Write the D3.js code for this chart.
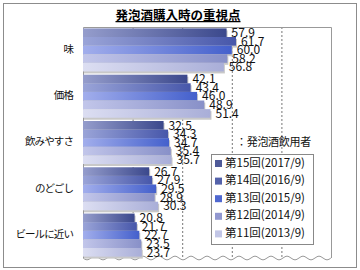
<!DOCTYPE html>
<html>
<head>
<meta charset="utf-8">
<script src="https://cdn.jsdelivr.net/npm/d3@7"></script>
<style>
  body { margin: 0; background: #fff; }
  text { font-family: "Noto Sans CJK JP", "Liberation Sans", sans-serif; }
</style>
</head>
<body>
<div id="chart"></div>
<script>

// chart data
const categories = ["味", "価格", "飲みやすさ", "のどごし", "ビールに近い"]
const seriesNames = ["第15回(2017/9)", "第14回(2016/9)", "第13回(2015/9)", "第12回(2014/9)", "第11回(2013/9)"]
const s15 = [57.9, 42.1, 32.5, 26.7, 20.8]
const s14 = [61.7, 43.4, 34.3, 27.9, 21.7]
const s13 = [60.0, 46.0, 34.7, 29.5, 22.7]
const s12 = [58.2, 48.9, 35.4, 28.9, 23.5]
const s11 = [56.8, 51.4, 35.7, 30.3, 23.7]
const xTicks = [20, 40, 60, 80]

const seriesValues = [s15, s14, s13, s12, s11]
const barLight = ["#959dcc", "#9aa4d8", "#a2aeec", "#c2c6ea", "#dcdef2"]
const barDark  = ["#3b488c", "#4757aa", "#4460cc", "#8890c8", "#a9aed8"]
const swatch   = ["#4f5a98", "#5462aa", "#5068d0", "#9298d0", "#c2c6e6"]

const W = 360, H = 270
const svg = d3.select("#chart").append("svg")
    .attr("width", W).attr("height", H)

// outer frame
svg.append("rect")
    .attr("x", 3.5).attr("y", 3.5)
    .attr("width", W - 7).attr("height", H - 6)
    .attr("fill", "#fff").attr("stroke", "#8c8c8c")

// title
svg.append("text")
    .attr("x", 178).attr("y", 20)
    .attr("text-anchor", "middle")
    .attr("font-size", 12.5).attr("font-weight", "bold")
    .attr("text-decoration", "underline")
    .text("発泡酒購入時の重視点")

const plot = {left: 83, right: 331, top: 27, bottom: 258}

const x = d3.scaleLinear().domain([0, 100]).range([plot.left, plot.right])
const y = d3.scaleBand().domain(categories)
    .range([plot.top, plot.bottom]).paddingInner(0.07).paddingOuter(0.03)
const ySub = d3.scaleBand().domain(d3.range(seriesNames.length))
    .range([0, y.bandwidth()])

// gradients
const defs = svg.append("defs")
seriesNames.forEach((s, i) => {
    const g = defs.append("linearGradient")
        .attr("id", "grad" + i)
        .attr("x1", "0%").attr("x2", "100%").attr("y1", "0%").attr("y2", "0%")
    g.append("stop").attr("offset", "0%").attr("stop-color", barLight[i])
    g.append("stop").attr("offset", "100%").attr("stop-color", barDark[i])
})

// wavy bottom edge
const waveY = plot.bottom
const wavePts = d3.range(plot.left, plot.right + 0.1, 2)
    .map(px => [px, waveY + 2 * Math.sin((px - plot.left) / 16 * 2 * Math.PI)])
const wave = d3.line().curve(d3.curveBasis)

// grid lines
svg.append("g").selectAll("line")
    .data(xTicks).enter().append("line")
    .attr("x1", d => x(d) + 0.5).attr("x2", d => x(d) + 0.5)
    .attr("y1", plot.top).attr("y2", waveY)
    .attr("stroke", "#777").attr("stroke-dasharray", "2,2")

// plot frame (top, right, left)
svg.append("path")
    .attr("d", `M${plot.left + 0.5},${waveY} V${plot.top + 0.5} H${plot.right + 0.5} V${waveY}`)
    .attr("fill", "none").attr("stroke", "#999")
svg.append("path")
    .attr("d", wave(wavePts))
    .attr("fill", "none").attr("stroke", "#999")

// legend
const legX = 211, legY = 154
const legend = svg.append("g")
legend.append("rect")
    .attr("x", legX + 0.5).attr("y", legY + 0.5)
    .attr("width", 102).attr("height", 90)
    .attr("fill", "#fff").attr("stroke", "#888")
const legItems = legend.selectAll("g.item")
    .data(seriesNames).enter().append("g")
    .attr("transform", (d, i) => `translate(${legX + 4},${legY + 9 + i * 17.6})`)
legItems.append("rect")
    .attr("x", 0).attr("y", -3).attr("width", 7).attr("height", 7)
    .attr("fill", (d, i) => swatch[i])
legItems.append("text")
    .attr("x", 10).attr("y", 0.5)
    .attr("dominant-baseline", "middle")
    .attr("font-size", 11.5).attr("fill", "#111")
    .text(d => d)

svg.append("text")
    .attr("x", 236).attr("y", 146)
    .attr("font-size", 11).attr("fill", "#111")
    .attr("letter-spacing", -0.3)
    .text("：発泡酒飲用者")

// bars
const groups = svg.append("g").selectAll("g.cat")
    .data(categories).enter().append("g")
    .attr("transform", d => `translate(0,${y(d)})`)

groups.each(function (cat, ci) {
    const g = d3.select(this)
    const vals = seriesValues.map(s => s[ci])
    // shadow
    g.selectAll("rect.shadow").data(vals).enter().append("rect")
        .attr("x", x(0) + 1)
        .attr("y", (d, i) => ySub(i) + 2)
        .attr("width", d => x(d) - x(0))
        .attr("height", ySub.bandwidth())
        .attr("fill", "#c8c8c8")
    g.selectAll("rect.bar").data(vals).enter().append("rect")
        .attr("x", x(0))
        .attr("y", (d, i) => ySub(i))
        .attr("width", d => x(d) - x(0))
        .attr("height", ySub.bandwidth())
        .attr("fill", (d, i) => `url(#grad${i})`)
    g.selectAll("text.val").data(vals).enter().append("text")
        .attr("x", d => x(d) + 5)
        .attr("y", (d, i) => ySub(i) + ySub.bandwidth() / 2 + 1)
        .attr("dominant-baseline", "middle")
        .attr("font-family", "Liberation Sans, sans-serif")
        .attr("font-size", 12).attr("fill", "#111")
        .text(d => d.toFixed(1))
})

// category labels
svg.append("g").selectAll("text")
    .data(categories).enter().append("text")
    .attr("x", 73)
    .attr("y", d => y(d) + y.bandwidth() / 2)
    .attr("dominant-baseline", "middle")
    .attr("text-anchor", "end")
    .attr("font-size", 10.5).attr("fill", "#111")
    .attr("letter-spacing", -0.9)
    .text(d => d)

</script>
</body>
</html>
